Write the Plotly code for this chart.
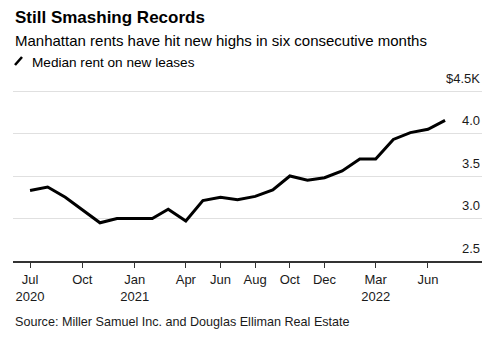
import plotly.graph_objects as go

months = ["2020-07-01","2020-08-01","2020-09-01","2020-10-01","2020-11-01","2020-12-01",
          "2021-01-01","2021-02-01","2021-03-01","2021-04-01","2021-05-01","2021-06-01",
          "2021-07-01","2021-08-01","2021-09-01","2021-10-01","2021-11-01","2021-12-01",
          "2022-01-01","2022-02-01","2022-03-01","2022-04-01","2022-05-01","2022-06-01",
          "2022-07-01"]
median_rent_k = [3.33, 3.37, 3.25, 3.10, 2.95, 3.00,
                 3.00, 3.00, 3.11, 2.97, 3.21, 3.25,
                 3.22, 3.26, 3.335, 3.50, 3.45, 3.48,
                 3.56, 3.70, 3.70, 3.93, 4.01, 4.05,
                 4.155]

x_tickvals = ["2020-07-01","2020-10-01","2021-01-01","2021-04-01","2021-06-01","2021-08-01",
              "2021-10-01","2021-12-01","2022-03-01","2022-06-01"]
x_ticktext = ["Jul<br>2020","Oct","Jan<br>2021","Apr","Jun","Aug","Oct","Dec","Mar<br>2022","Jun"]
y_tickvals = [2.5, 3.0, 3.5, 4.0, 4.5]
y_ticktext = ["2.5", "3.0", "3.5", "4.0", "$4.5K"]

FONT = "Liberation Sans, Arial, sans-serif"
TOP = 88

fig = go.Figure()
fig.add_trace(go.Scatter(x=months, y=median_rent_k, mode="lines",
                         line=dict(color="#000000", width=3),
                         name="Median rent on new leases", showlegend=False))

fig.update_layout(
    width=500, height=339,
    margin=dict(l=13, r=18, t=TOP, b=78),
    paper_bgcolor="white", plot_bgcolor="white",
    font=dict(family=FONT, size=13, color="#1a1a1a"),
    xaxis=dict(range=["2020-06-01", "2022-09-04"], tickvals=x_tickvals, ticktext=x_ticktext,
               ticks="outside", ticklen=5, tickwidth=1, tickcolor="#333333",
               showline=True, linecolor="#333333", linewidth=2, showgrid=False,
               zeroline=False, tickfont=dict(size=13, color="#1a1a1a")),
    yaxis=dict(range=[2.5, 2.5 + (339 - TOP - 78) / 85.0], tickvals=y_tickvals,
               showticklabels=False, side="right", showgrid=True,
               gridcolor="#e0e0e0", gridwidth=1, zeroline=False, showline=False, ticks=""),
)

for v, t in zip(y_tickvals, y_ticktext):
    fig.add_annotation(text=t, xref="paper", yref="y", x=1, y=v, xanchor="right",
                       yanchor="middle", yshift=13, showarrow=False,
                       font=dict(size=13, color="#1a1a1a"))

fig.add_annotation(text="<b>Still Smashing Records</b>", xref="paper", yref="paper",
                   x=0, y=1, yanchor="middle", xanchor="left", showarrow=False,
                   font=dict(size=17, color="#000000"), yshift=TOP - 17)
fig.add_annotation(text="Manhattan rents have hit new highs in six consecutive months",
                   xref="paper", yref="paper", x=0, y=1, xanchor="left", yanchor="middle",
                   showarrow=False, font=dict(size=15, color="#000000"), yshift=TOP - 40)
fig.add_annotation(text="Median rent on new leases", xref="paper", yref="paper",
                   x=0, y=1, xanchor="left", yanchor="middle", showarrow=False,
                   font=dict(size=13.6, color="#000000"), xshift=17, yshift=TOP - 62)
fig.add_shape(type="line", xref="paper", yref="paper", x0=2, x1=9,
              y0=TOP - 65, y1=TOP - 57,
              xsizemode="pixel", ysizemode="pixel", xanchor=0, yanchor=1,
              line=dict(color="#000000", width=2.5))
fig.add_annotation(text="Source: Miller Samuel Inc. and Douglas Elliman Real Estate",
                   xref="paper", yref="paper", x=0, y=0, xanchor="left", yanchor="middle",
                   showarrow=False, font=dict(size=12.6, color="#1a1a1a"), yshift=-(322 - 261))

fig.write_html("out.html")
